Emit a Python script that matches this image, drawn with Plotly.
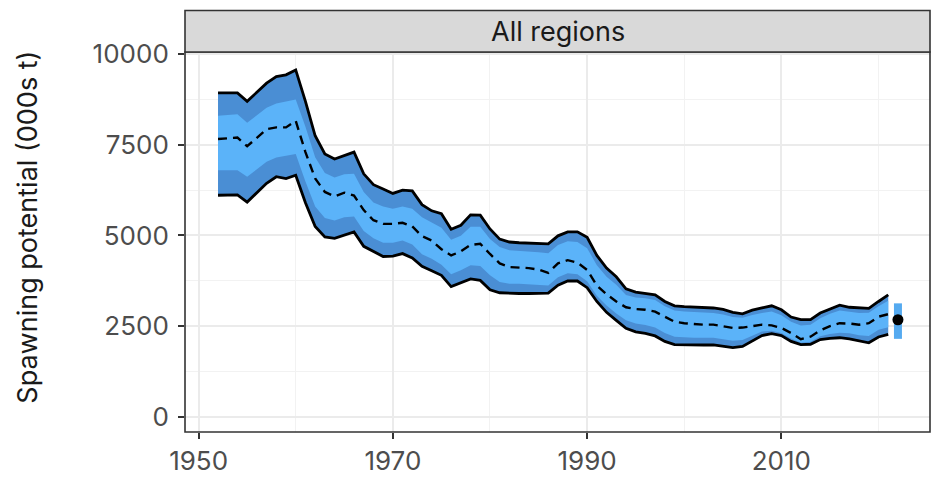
import plotly.graph_objects as go

# Spawning potential (000s t), all regions combined
years = list(range(1952, 2022))

upper_outer = [8930, 8930, 8930, 8700, 8950, 9200, 9380, 9430, 9565, 8700,
               7750, 7250, 7110, 7200, 7300, 6700, 6400, 6280, 6160, 6250,
               6230, 5850, 5680, 5600, 5170, 5280, 5570, 5560, 5180, 4900,
               4820, 4800, 4790, 4770, 4770, 4990, 5100, 5100, 4950, 4450,
               4100, 3860, 3530, 3440, 3400, 3360, 3180, 3060, 3040, 3030,
               3020, 3000, 2960, 2880, 2840, 2940, 3000, 3060, 2950, 2750,
               2680, 2680, 2860, 2980, 3080, 3020, 3000, 2990, 3180, 3360]

upper_inner = [8300, 8320, 8340, 8110, 8320, 8520, 8640, 8700, 8750, 8000,
               7160, 6720, 6600, 6690, 6700, 6200, 5910, 5800, 5740, 5800,
               5740, 5500, 5350, 5210, 4880, 4990, 5240, 5240, 4900, 4680,
               4590, 4580, 4560, 4540, 4510, 4740, 4840, 4820, 4650, 4180,
               3860, 3640, 3360, 3290, 3270, 3220, 3050, 2930, 2900, 2890,
               2880, 2860, 2820, 2750, 2730, 2810, 2860, 2900, 2800, 2620,
               2520, 2540, 2720, 2840, 2930, 2890, 2860, 2870, 3050, 3200]

median = [7660, 7690, 7700, 7460, 7700, 7930, 7980, 7980, 8160, 7300,
          6570, 6200, 6080, 6180, 6100, 5700, 5420, 5320, 5320, 5350,
          5250, 4980, 4860, 4620, 4450, 4560, 4740, 4770, 4490, 4230,
          4130, 4120, 4100, 4060, 3970, 4230, 4320, 4250, 4050, 3620,
          3380, 3180, 3020, 2970, 2950, 2900, 2750, 2620, 2580, 2550,
          2540, 2540, 2500, 2450, 2460, 2510, 2540, 2520, 2450, 2310,
          2140, 2210, 2380, 2500, 2580, 2570, 2540, 2580, 2760, 2830]

lower_inner = [6800, 6800, 6800, 6620, 6830, 7030, 7150, 7200, 7250, 6490,
               5800, 5480, 5410, 5500, 5520, 5120, 4920, 4800, 4800, 4860,
               4750, 4480, 4360, 4190, 3930, 4040, 4180, 4160, 3900, 3720,
               3670, 3670, 3660, 3640, 3620, 3850, 3960, 3930, 3740, 3340,
               3070, 2850, 2660, 2570, 2530, 2460, 2310, 2210, 2190, 2180,
               2180, 2180, 2140, 2100, 2120, 2240, 2350, 2370, 2310, 2160,
               2040, 2070, 2220, 2280, 2320, 2300, 2250, 2230, 2400, 2470]

lower_outer = [6110, 6115, 6120, 5920, 6180, 6440, 6620, 6570, 6660, 5900,
               5250, 4960, 4920, 5000, 5100, 4700, 4550, 4420, 4430, 4500,
               4380, 4150, 4030, 3900, 3590, 3690, 3800, 3760, 3500, 3420,
               3400, 3400, 3400, 3400, 3410, 3630, 3745, 3745, 3560, 3180,
               2880, 2660, 2440, 2340, 2300, 2230, 2080, 1990, 1980, 1980,
               1980, 1980, 1950, 1910, 1940, 2100, 2240, 2290, 2240, 2080,
               1990, 2000, 2130, 2160, 2180, 2150, 2100, 2040, 2200, 2270]

# Current-year estimate with its interval
current_year = [2022]
current_est = [2676]
current_low = [2149]
current_high = [3128]

x_ticks = [1950, 1970, 1990, 2010]
y_ticks = [0, 2500, 5000, 7500, 10000]
panel_title = "All regions"
y_title = "Spawning potential (000s t)"

DARK = "#4A8ED4"
LIGHT = "#5BB3F9"
FONT = "Inter"

fig = go.Figure()

# outer interval
fig.add_trace(go.Scatter(x=years, y=lower_outer, mode="lines",
                         line=dict(width=0, color=DARK), hoverinfo="skip",
                         showlegend=False))
fig.add_trace(go.Scatter(x=years, y=upper_outer, mode="lines",
                         line=dict(width=0, color=DARK), fill="tonexty",
                         fillcolor=DARK, showlegend=False))
# inner interval
fig.add_trace(go.Scatter(x=years, y=lower_inner, mode="lines",
                         line=dict(width=0, color=LIGHT), hoverinfo="skip",
                         showlegend=False))
fig.add_trace(go.Scatter(x=years, y=upper_inner, mode="lines",
                         line=dict(width=0, color=LIGHT), fill="tonexty",
                         fillcolor=LIGHT, showlegend=False))
# outlines of the outer interval
for series in (upper_outer, lower_outer):
    fig.add_trace(go.Scatter(x=years, y=series, mode="lines",
                             line=dict(width=2.8, color="black"),
                             showlegend=False))
# median
fig.add_trace(go.Scatter(x=years, y=median, mode="lines",
                         line=dict(width=2.4, color="black", dash="9px,6px"),
                         showlegend=False))
# current-year interval and point
fig.add_trace(go.Scatter(x=current_year * 2, y=current_low + current_high,
                         mode="lines", line=dict(width=8, color="#55AAF0"),
                         showlegend=False))
fig.add_trace(go.Scatter(x=current_year, y=current_est, mode="markers",
                         marker=dict(size=11, color="black"),
                         showlegend=False))

grid_major = "#EBEBEB"
grid_minor = "#F2F2F2"

fig.update_xaxes(
    range=[1948.6, 2025.3], tickvals=x_ticks, ticktext=[str(v) for v in x_ticks],
    showgrid=True, gridcolor=grid_major, gridwidth=2,
    minor=dict(dtick=10, tick0=1950, showgrid=True, gridcolor=grid_minor,
               gridwidth=1.2, ticks=""),
    ticks="outside", ticklen=6, tickwidth=2, tickcolor="#333333",
    tickfont=dict(family=FONT, size=26, color="#4D4D4D"),
    showline=False, zeroline=False,
)
fig.update_yaxes(
    range=[-420, 10060], tickvals=y_ticks, ticktext=[str(v) for v in y_ticks],
    showgrid=True, gridcolor=grid_major, gridwidth=2,
    minor=dict(dtick=1250, tick0=0, showgrid=True, gridcolor=grid_minor,
               gridwidth=1.2, ticks=""),
    ticks="outside", ticklen=6, tickwidth=2, tickcolor="#333333",
    tickfont=dict(family=FONT, size=26, color="#4D4D4D"),
    ticklabelstandoff=4,
    showline=False, zeroline=False,
)

strip_h = 42 / 385
fig.update_layout(
    width=932, height=478,
    margin=dict(l=185, r=2, t=52, b=41),
    paper_bgcolor="white", plot_bgcolor="white",
    shapes=[
        dict(type="rect", xref="paper", yref="paper", x0=0, x1=1, y0=0, y1=1,
             line=dict(color="#333333", width=1.6), fillcolor="rgba(0,0,0,0)",
             layer="above"),
        dict(type="rect", xref="paper", yref="paper", x0=0, x1=1,
             y0=1, y1=1 + strip_h, line=dict(color="#333333", width=1.6),
             fillcolor="#D9D9D9", layer="above"),
    ],
    annotations=[
        dict(text=panel_title, xref="paper", yref="paper", x=0.5,
             y=1 + strip_h / 2, xanchor="center", yanchor="middle",
             showarrow=False, font=dict(family=FONT, size=27, color="#1A1A1A")),
        dict(text=y_title, xref="paper", yref="paper", x=-(185 - 28) / 745,
             y=(437 - 230) / 385, xanchor="center", yanchor="middle",
             textangle=-90, showarrow=False,
             font=dict(family=FONT, size=27, color="#1A1A1A")),
    ],
)

fig.write_html("out.html")
